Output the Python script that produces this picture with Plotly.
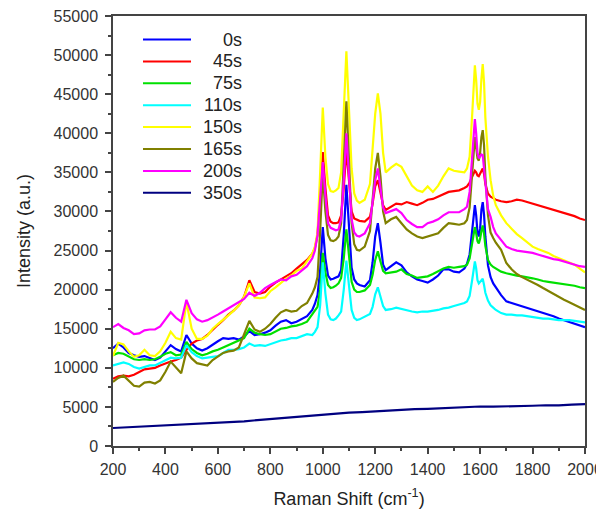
import plotly.graph_objects as go

# ---------------- data ----------------
wavenumber = [200, 220, 240, 260, 280, 300, 320, 340, 360, 380, 400, 420, 440, 460, 480, 500, 520, 540, 560, 580,
              600, 620, 640, 660, 680, 700, 720, 740, 760, 780, 800, 820, 840, 860, 880, 900, 920, 940, 960,
              970, 980, 990, 1000, 1010, 1020, 1030, 1040, 1050, 1060, 1070, 1080, 1090, 1100, 1110, 1120, 1130, 1140,
              1160, 1180,
              1190, 1200, 1210, 1220, 1230, 1240,
              1260, 1280, 1300, 1320, 1340, 1360, 1380, 1400, 1420, 1440, 1460, 1480, 1500, 1520, 1540,
              1550, 1560, 1570, 1575, 1580, 1585, 1590, 1595, 1600, 1605, 1610, 1615, 1620, 1630, 1640, 1650, 1660,
              1680, 1700, 1720, 1740, 1760, 1780, 1800, 1820, 1840, 1860, 1880, 1900, 1920, 1940, 1960, 1980, 2000]

s0 = [12500, 13100, 12600, 11900, 11600, 11400, 11500, 11200, 11000, 11300, 12100, 12900, 12400, 12100, 14200, 13100, 12500, 12200, 12500, 13000,
      13400, 13800, 13700, 13800, 13600, 14000, 14700, 14200, 14300, 14500, 14800, 15400, 15900, 16100, 15700, 15900, 16200, 16600, 17400,
      18200, 19300, 22500, 28000, 24000, 21800, 21300, 21400, 21500, 21700, 22500, 27000, 33400, 28000, 22800, 21300, 20800, 20600,
      20400, 21200,
      23500, 26800, 28500, 26000, 23200, 22500,
      23000, 23500, 23100, 22200, 21700, 21300, 21100, 20900, 21300, 21800, 22600, 22600, 22300, 22200, 22700,
      23300, 24500, 27500, 29800, 30800, 29500, 27300, 26800, 27800, 30200, 31200, 29600, 26800, 23100, 21600, 20800, 20300,
      19300, 18500, 18300, 18100, 17900, 17700, 17400, 17200, 17000, 16800, 16600, 16300, 16100, 15900, 15700, 15400, 15200]

s45 = [8600, 8900, 9000, 8900, 9100, 9400, 9800, 9900, 10000, 10300, 10600, 10800, 11000, 11300, 12300, 13100, 13500, 13700, 14200, 14900,
       15500, 16100, 16800, 17300, 18000, 19100, 21200, 19700, 19500, 19700, 20400, 20900, 21300, 21700, 22100, 22700, 23300, 23800, 24600,
       25300, 27000, 32000, 37600, 33000, 29500, 28700, 28500, 28500, 28600, 29500, 33000, 37900, 33500, 30000, 29100, 28900, 28800,
       28700, 29300,
       31000, 33200, 34000, 32500, 30800, 30200,
       30600, 31000, 30900, 31200, 31000, 30800, 31100, 31500, 31600, 31900, 32200, 32500, 32600, 32700, 33000,
       33200, 33700, 34400, 34900, 35200, 35000, 34600, 34500, 34900, 35300, 35500, 34800, 33500, 32300, 31900, 31700, 31500,
       31300, 31200, 31300, 31500, 31400, 31200, 31000, 30800, 30600, 30400, 30200, 30000, 29800, 29600, 29400, 29100, 28900]

s75 = [11600, 11900, 11800, 11400, 11100, 11000, 11100, 11000, 11100, 11400, 11800, 12000, 11600, 11700, 13300, 12400, 11900, 11600, 11800, 12100,
       12300, 12600, 12900, 13100, 13400, 13800, 15000, 14500, 14300, 14200, 14300, 14700, 15000, 15100, 15300, 15400, 15600, 15900, 16900,
       17300, 17800, 20000, 24700, 22200, 20600, 20200, 20300, 20500, 20800, 21500, 24000, 27700, 24500, 21000, 20000, 19700, 19700,
       19900, 20600,
       21900, 23800, 24900, 23600, 22400, 22100,
       22200, 22300, 22600, 22000, 21800, 21500, 21600, 21700, 22000, 22400, 22700, 22900, 22800, 22900, 23000,
       23200, 24000, 26000, 27300, 28000, 27200, 26200, 25900, 26500, 27500, 28200, 27200, 25600, 23800, 23200, 22900, 22700,
       22300, 22100, 21900, 21800, 21700, 21600, 21450, 21300, 21100, 21000, 20900, 20800, 20700, 20600, 20500, 20300, 20200]

s110 = [10300, 10500, 10700, 10500, 10100, 9900, 10100, 10300, 10300, 10600, 11000, 11300, 11200, 11300, 12900, 12000, 11500, 11200, 11300, 11400,
        11500, 11900, 12300, 12300, 12400, 12600, 13100, 12800, 12900, 12800, 13000, 13300, 13500, 13600, 13800, 13800, 14100, 14300, 14200,
        14600, 15200, 18000, 23500, 19500, 16800, 16200, 16100, 16300, 16700, 17200, 20000, 23700, 20500, 17400, 16400, 16100, 16200,
        16500, 16900,
        17800, 19400, 20300, 19200, 17900, 17400,
        17500, 17700, 17500, 17300, 17200, 17100, 17200, 17200, 17300, 17400, 17600, 17700, 17900, 18100, 18300,
        18500, 19200, 21300, 22800, 23600, 22700, 21200, 20800, 21000, 21300, 21400, 20600, 19600, 18600, 18000, 17700, 17400,
        17000, 16800, 16800, 16700, 16700, 16600, 16500, 16400, 16300, 16300, 16200, 16100, 16100, 16100, 16000, 15900, 15800]

s150 = [11500, 13200, 13000, 12100, 11400, 11600, 12300, 11600, 11500, 12100, 13200, 14600, 13800, 13600, 18400, 15000, 13700, 13700, 14100, 15000,
        15600, 16100, 16700, 17300, 18000, 19100, 20800, 19000, 18900, 19000, 19800, 20300, 20900, 21400, 21800, 22400, 22700, 23600, 24600,
        25500, 27300, 35000, 43300, 37000, 33500, 32600, 32500, 32700, 33000, 35000, 42000, 50500, 43000, 35500, 32300, 31400, 31100,
        31500, 33500,
        37500, 42500, 45100, 42500, 37500, 35000,
        35600, 36100, 35700, 34400, 33300, 32700, 32500, 33200, 32500, 33300, 34500, 35500, 35200, 35100, 35000,
        35500, 37000, 42500, 46500, 48700, 46800, 43800, 43000, 44000, 47000, 48850, 46500, 42000, 37000, 34000, 32000, 30800,
        29500, 28500, 27800, 27100, 26600, 26000, 25500, 25200, 25000, 24700, 24300, 24000, 23800, 23500, 23200, 22700, 22200]

s165 = [8200, 8700, 9000, 8300, 7700, 7600, 8100, 8200, 8000, 8400, 9500, 10800, 10000, 9300, 12100, 11200, 10600, 10400, 10300, 11000,
        11500, 11900, 12100, 12200, 12600, 14300, 16000, 14900, 14600, 15000, 15600, 16400, 17100, 17400, 17200, 17300, 17900, 18300, 19500,
        20300, 21600, 27500, 35000, 30000, 27000, 26300, 26200, 26400, 26800, 28500, 36000, 44100, 36500, 28500, 25800, 25100, 25000,
        25500, 27500,
        31000, 35500, 37500, 34500, 30000, 28500,
        29000, 29300, 28500, 27700, 27200, 26800, 26600, 26800, 27000, 27200, 27900, 28500, 28400, 28300, 28500,
        28900, 30500, 35000, 38000, 39500, 38200, 36800, 36500, 37500, 39500, 40400, 38500, 34500, 29500, 27300, 26600, 26000,
        25100, 23400, 22600, 22000, 21600, 21300, 21000, 20600, 20200, 19800, 19400, 19100, 18700, 18400, 18100, 17700, 17400]

s200 = [15200, 15600, 15100, 14800, 14300, 14400, 14800, 14900, 14900, 15300, 16200, 17100, 16400, 15900, 18700, 17000, 16200, 15900, 16100, 16400,
        16800, 17200, 17600, 18000, 18300, 18800, 19600, 19200, 19600, 20200, 20600, 20900, 21300, 21200, 21700, 21900, 22400, 23000, 24000,
        25000, 27000, 31500, 36300, 32000, 28500, 27900, 27700, 27600, 27700, 29000, 34000, 40000, 34500, 29000, 27300, 26900, 26800,
        27200, 28500,
        31000, 34000, 35500, 33000, 30500, 29800,
        30100, 30300, 29800, 28900, 28400, 28000, 28000, 28500, 28700, 29000, 29500, 29900, 29900, 29900, 30300,
        30600, 32500, 37500, 40500, 41800, 40000, 37500, 36800, 37000, 37300, 37200, 35500, 33000, 30300, 29300, 28000, 27200,
        26300, 25500, 25200, 25000, 24900, 24800, 24700, 24500, 24300, 24100, 23900, 23800, 23600, 23400, 23200, 23000, 22900]

wavenumber_350 = [200, 250, 300, 350, 400, 450, 500, 550, 600, 650, 700, 750, 800, 850, 900, 950, 1000, 1050, 1100,
                  1150, 1200, 1250, 1300, 1350, 1400, 1450, 1500, 1550, 1600, 1650, 1700, 1750, 1800, 1850, 1900, 1950, 2000]
s350 = [2300, 2380, 2420, 2500, 2620, 2700, 2790, 2860, 2900, 3020, 3150, 3310, 3450, 3600, 3760, 3880, 4000, 4150, 4260,
        4330, 4450, 4560, 4640, 4720, 4760, 4850, 4890, 4960, 5050, 5030, 5100, 5120, 5150, 5210, 5190, 5300, 5350]

labels = ["0s", "45s", "75s", "110s", "150s", "165s", "200s", "350s"]
colors = ["#0000FF", "#FF0000", "#00E000", "#00FFFF", "#FFFF00", "#808000", "#FF00FF", "#000080"]

x_ticks = [200, 400, 600, 800, 1000, 1200, 1400, 1600, 1800, 2000]
y_ticks = [0, 5000, 10000, 15000, 20000, 25000, 30000, 35000, 40000, 45000, 50000, 55000]

# ---------------- figure ----------------
# the page body has an 8px default margin, so the figure is made 8px smaller
OFF = 8
W, H = 604 - OFF, 510 - OFF
ML, MR, MT, MB = 113 - OFF, 19, 16 - OFF, 64
PW, PH = W - ML - MR, H - MT - MB

xs_list = [wavenumber] * 7 + [wavenumber_350]
ys_list = [s0, s45, s75, s110, s150, s165, s200, s350]

fig = go.Figure()
for xs, ys, name, col in zip(xs_list, ys_list, labels, colors):
    fig.add_trace(go.Scatter(x=xs, y=ys, mode="lines", name=name,
                             line=dict(color=col, width=2.2), showlegend=False))

# legend drawn in the top-left corner of the plot, as in the reference
# (positions given in page pixels)
def px_x(p):
    return (p - OFF - ML) / PW

def px_y(p):
    return (H - MB - (p - OFF)) / PH

row0, row_step = 39.5, 21.9
for i, (name, col) in enumerate(zip(labels, colors)):
    yc = row0 + i * row_step
    fig.add_shape(type="line", xref="paper", yref="paper",
                  x0=px_x(143), x1=px_x(191), y0=px_y(yc), y1=px_y(yc),
                  line=dict(color=col, width=2))
    fig.add_annotation(xref="paper", yref="paper", x=px_x(244), y=px_y(yc),
                       xanchor="right", yanchor="middle", text=name, showarrow=False,
                       font=dict(family="Liberation Sans, Arial", size=18, color="#222"))

axis_common = dict(showline=True, linecolor="#444", linewidth=1.5, mirror=True,
                   ticks="outside", ticklen=6, tickwidth=1.5, tickcolor="#444",
                   showgrid=False, zeroline=False, automargin=False,
                   ticklabeloverflow="allow",
                   tickfont=dict(family="Liberation Sans, Arial", size=16, color="#333"))

fig.update_layout(
    width=W, height=H,
    margin=dict(l=ML, r=MR, t=MT, b=MB),
    paper_bgcolor="white", plot_bgcolor="white",
    font=dict(family="Liberation Sans, Arial", color="#222"),
    xaxis=dict(range=[200, 2000], tickvals=x_ticks, tickformat="d", ticklabelstandoff=2,
               minor=dict(ticks="outside", ticklen=3, tickwidth=1.5, tickcolor="#444", dtick=100, tick0=200),
               title=dict(text="Raman Shift (cm<sup>-1</sup>)", font=dict(size=18, color="#222"), standoff=15),
               **axis_common),
    yaxis=dict(range=[0, 55000], tickvals=y_ticks, tickformat="d", ticklabelstandoff=4,
               minor=dict(ticks="outside", ticklen=3, tickwidth=1.5, tickcolor="#444", dtick=2500, tick0=0),
               title=dict(text="Intensity (a.u.)", font=dict(size=18, color="#222"), standoff=18),
               **axis_common),
    showlegend=False,
)

fig.write_html("out.html")
